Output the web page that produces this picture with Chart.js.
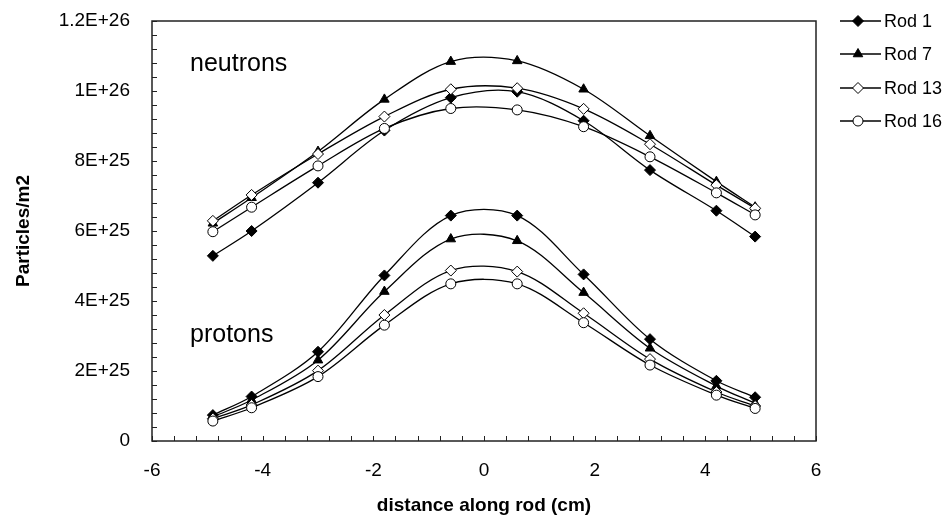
<!DOCTYPE html>
<html>
<head>
<meta charset="utf-8">
<script src="https://cdn.jsdelivr.net/npm/chart.js@4/dist/chart.umd.min.js"></script>
<style>
  html, body { margin: 0; padding: 0; background: #fff; }
  #wrap { width: 946px; height: 521px; }
</style>
</head>
<body>
<div id="wrap"><canvas id="grafico" width="946" height="521"></canvas></div>
<script>
// distance along rod (cm)
const distancias = [-4.9, -4.2, -3.0, -1.8, -0.6, 0.6, 1.8, 3.0, 4.2, 4.9];

const rodNames = ["Rod 1", "Rod 7", "Rod 13", "Rod 16"];

// neutrons, particles/m2
const neutronsRod1  = [5.29e25, 6.00e25, 7.38e25, 8.87e25, 9.81e25, 9.98e25, 9.15e25, 7.74e25, 6.58e25, 5.84e25];
const neutronsRod7  = [6.22e25, 6.95e25, 8.27e25, 9.76e25, 10.84e25, 10.86e25, 10.05e25, 8.72e25, 7.41e25, 6.68e25];
const neutronsRod13 = [6.29e25, 7.03e25, 8.20e25, 9.27e25, 10.05e25, 10.08e25, 9.49e25, 8.48e25, 7.31e25, 6.65e25];
const neutronsRod16 = [5.98e25, 6.68e25, 7.86e25, 8.93e25, 9.50e25, 9.46e25, 8.98e25, 8.12e25, 7.09e25, 6.46e25];

// protons, particles/m2
const protonsRod1  = [0.74e25, 1.27e25, 2.55e25, 4.73e25, 6.44e25, 6.44e25, 4.76e25, 2.91e25, 1.72e25, 1.25e25];
const protonsRod7  = [0.69e25, 1.17e25, 2.31e25, 4.27e25, 5.77e25, 5.72e25, 4.24e25, 2.65e25, 1.57e25, 1.08e25];
const protonsRod13 = [0.64e25, 1.03e25, 2.01e25, 3.60e25, 4.87e25, 4.84e25, 3.65e25, 2.34e25, 1.40e25, 1.00e25];
const protonsRod16 = [0.57e25, 0.95e25, 1.84e25, 3.31e25, 4.49e25, 4.49e25, 3.38e25, 2.17e25, 1.31e25, 0.93e25];

const xTickValues = [-6, -4, -2, 0, 2, 4, 6];
const xTickLabels = ["-6", "-4", "-2", "0", "2", "4", "6"];
const yTickValues = [0, 2e25, 4e25, 6e25, 8e25, 1e26, 1.2e26];
const yTickLabels = ["0", "2E+25", "4E+25", "6E+25", "8E+25", "1E+26", "1.2E+26"];

const FUENTE = "'Liberation Sans', Arial, sans-serif";

// marker per rod
const estilos = [
    { pointStyle: "rectRot",  radius: 5.5, fill: "#000" },
    { pointStyle: "triangle", radius: 5.5, fill: "#000" },
    { pointStyle: "rectRot",  radius: 5.5, fill: "#fff" },
    { pointStyle: "circle",   radius: 5,   fill: "#fff" }
];

const neutrones = [neutronsRod1, neutronsRod7, neutronsRod13, neutronsRod16];
const protones = [protonsRod1, protonsRod7, protonsRod13, protonsRod16];

function serie(label, valores, i) {
    const e = estilos[i];
    return {
        label: label,
        data: distancias.map((x, k) => ({ x: x, y: valores[k] })),
        borderColor: "#000",
        borderWidth: 1.3,
        tension: 0.33,
        pointStyle: e.pointStyle,
        pointRadius: e.radius,
        pointHoverRadius: e.radius,
        pointBackgroundColor: e.fill,
        pointBorderColor: "#000",
        pointBorderWidth: 1,
        order: 10 - i
    };
}

const datasets = [];
rodNames.forEach((n, i) => datasets.push(serie(n, neutrones[i], i)));
rodNames.forEach((n, i) => datasets.push(serie(n, protones[i], i)));

// frame, inner tick marks, labels and legend
const extras = {
    id: "extras",
    afterDraw(chart) {
        const ctx = chart.ctx;
        const a = chart.chartArea;
        const sx = chart.scales.x, sy = chart.scales.y;
        ctx.save();
        ctx.strokeStyle = "#222";
        ctx.lineWidth = 1;
        ctx.beginPath();
        for (let i = 0; i <= 30; i++) {
            const px = Math.round(sx.getPixelForValue(-6 + i * 0.4)) + 0.5;
            ctx.moveTo(px, a.bottom);
            ctx.lineTo(px, a.bottom - 5);
        }
        for (let i = 0; i <= 30; i++) {
            const py = Math.round(sy.getPixelForValue(i * 4e24)) + 0.5;
            ctx.moveTo(a.left, py);
            ctx.lineTo(a.left + 5, py);
        }
        ctx.stroke();
        ctx.lineWidth = 1.5;
        ctx.strokeRect(a.left, a.top, a.right - a.left, a.bottom - a.top);

        ctx.fillStyle = "#000";
        ctx.font = "25px " + FUENTE;
        ctx.textBaseline = "alphabetic";
        ctx.textAlign = "left";
        ctx.fillText("neutrons", a.left + 38, 71);
        ctx.fillText("protons", a.left + 38, 342);

        // legend
        ctx.font = "18px " + FUENTE;
        ctx.textBaseline = "middle";
        const filas = [21, 54, 88, 121];
        rodNames.forEach((n, i) => {
            const y = filas[i];
            ctx.strokeStyle = "#000";
            ctx.lineWidth = 1.3;
            ctx.beginPath();
            ctx.moveTo(840, y);
            ctx.lineTo(881, y);
            ctx.stroke();
            const e = estilos[i];
            ctx.fillStyle = e.fill;
            ctx.lineWidth = 1;
            Chart.helpers.drawPoint(ctx, { pointStyle: e.pointStyle, radius: e.radius, borderWidth: 1, rotation: 0 }, 858, y);
            ctx.fillStyle = "#000";
            ctx.fillText(n, 884, y + 1);
        });
        ctx.restore();
    }
};

new Chart(document.getElementById("grafico"), {
    type: "line",
    data: { datasets: datasets },
    options: {
        responsive: false,
        animation: false,
        events: [],
        layout: { padding: { left: 0, right: 130, top: 21, bottom: 0 } },
        plugins: {
            legend: { display: false },
            tooltip: { enabled: false }
        },
        scales: {
            x: {
                type: "linear",
                min: -6,
                max: 6,
                grid: { display: false, drawTicks: false },
                border: { display: false },
                afterBuildTicks: s => { s.ticks = xTickValues.map(v => ({ value: v })); },
                afterFit: s => { s.height = 80; s.paddingLeft = 0; s.paddingRight = 0; },
                ticks: {
                    padding: 18,
                    color: "#000",
                    font: { family: FUENTE, size: 19 },
                    callback: (v) => xTickLabels[xTickValues.indexOf(v)]
                },
                title: {
                    display: true,
                    text: "distance along rod (cm)",
                    color: "#000",
                    font: { family: FUENTE, size: 19, weight: "bold" },
                    padding: { top: 4, bottom: 4 }
                }
            },
            y: {
                min: 0,
                max: 1.2e26,
                grid: { display: false, drawTicks: false },
                border: { display: false },
                afterBuildTicks: s => { s.ticks = yTickValues.map(v => ({ value: v })); },
                afterFit: s => { s.width = 152; s.paddingTop = 0; s.paddingBottom = 0; },
                ticks: {
                    padding: 22,
                    color: "#000",
                    font: { family: FUENTE, size: 19 },
                    callback: (v) => yTickLabels[yTickValues.indexOf(v)]
                },
                title: {
                    display: true,
                    text: "Particles/m2",
                    color: "#000",
                    font: { family: FUENTE, size: 19, weight: "bold" },
                    padding: { top: 12, bottom: 0 }
                }
            }
        }
    },
    plugins: [extras]
});
</script>
</body>
</html>
